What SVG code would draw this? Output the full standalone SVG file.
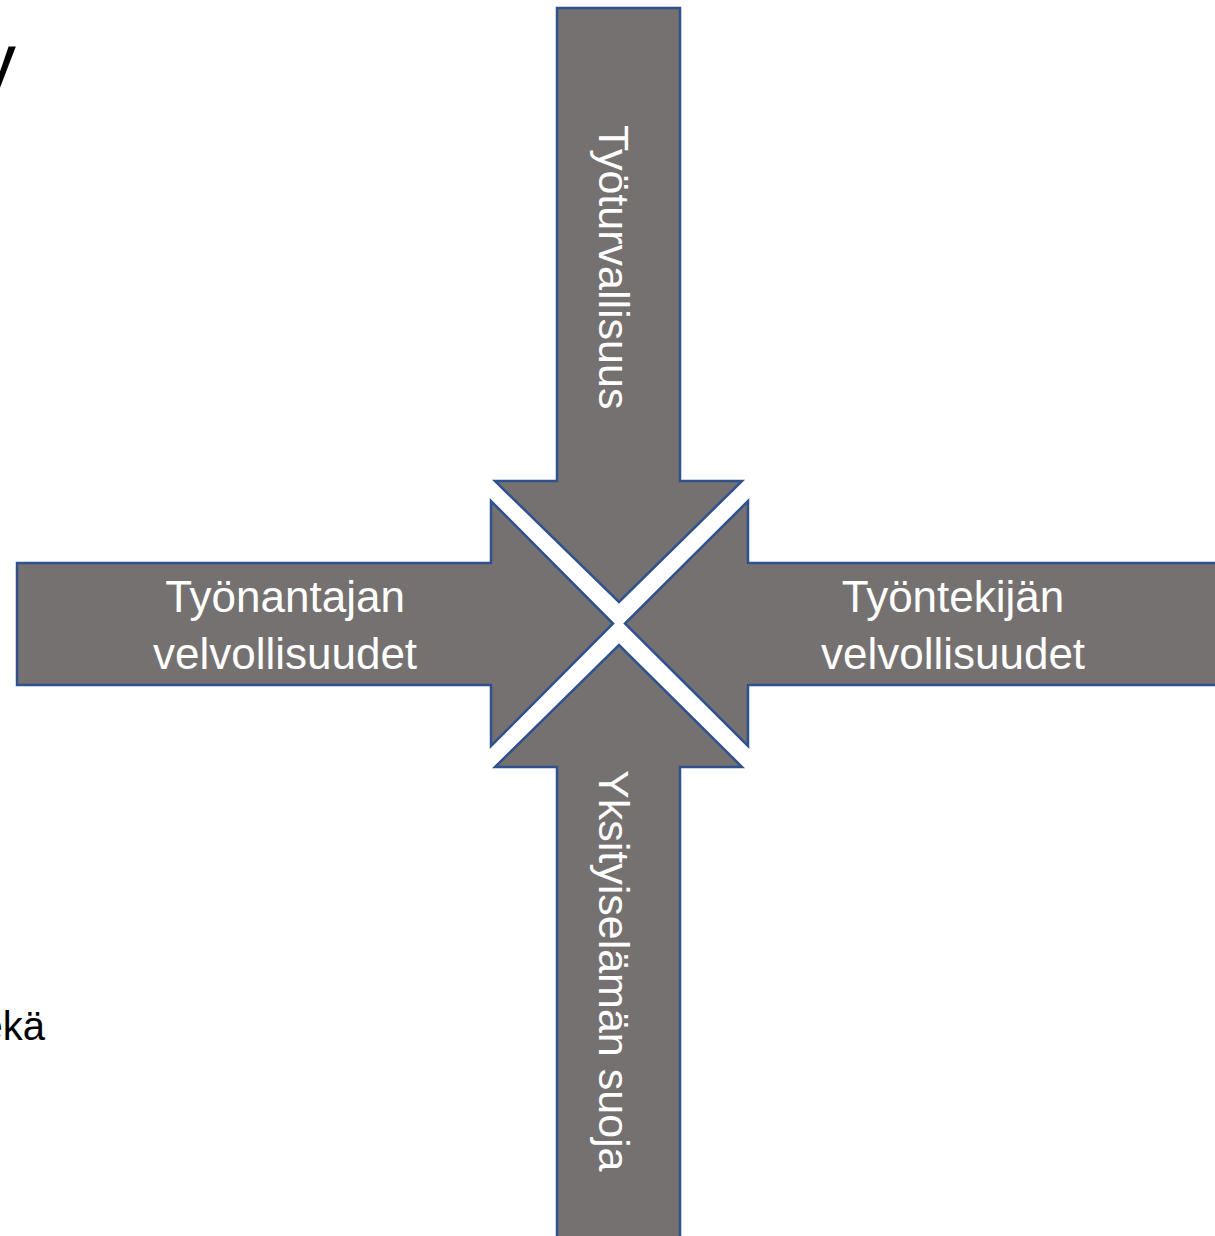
<svg xmlns="http://www.w3.org/2000/svg" width="1215" height="1236" viewBox="0 0 1215 1236">
<style>
.arrow{fill:#767171;stroke:#2F528F;stroke-width:2.5;stroke-linejoin:miter}
.lbl{font-family:"Liberation Sans",Arial,sans-serif;font-size:44px;fill:#ffffff}
.vlbl{font-family:"Liberation Sans",Arial,sans-serif;font-size:43px;fill:#ffffff}
.side{font-family:"Liberation Sans",Arial,sans-serif;fill:#000000}
</style>
<rect width="1215" height="1236" fill="#ffffff"/>
<g id="side-text">
<text class="side" x="16" y="88" font-size="78" text-anchor="end">y</text>
<text class="side" x="45" y="1040" font-size="40" text-anchor="end">sekä</text>
</g>
<g id="arrow-top">
<path class="arrow" d="M557,8 L680,8 L680,481 L742,481 L619,602 L495,481 L557,481 Z"/>
<text class="vlbl" transform="translate(599,125) rotate(90)" x="0" y="0">Työturvallisuus</text>
</g>
<g id="arrow-left">
<path class="arrow" d="M17,563 L491,563 L491,501 L613,623.5 L491,746 L491,685 L17,685 Z"/>
<text class="lbl" x="285" y="612" text-anchor="middle">Työnantajan</text>
<text class="lbl" x="285" y="669" text-anchor="middle">velvollisuudet</text>
</g>
<g id="arrow-right">
<path class="arrow" d="M1222,563 L748,563 L748,501 L625,623.5 L748,746 L748,685 L1222,685 Z"/>
<text class="lbl" x="953" y="612" text-anchor="middle">Työntekijän</text>
<text class="lbl" x="953" y="669" text-anchor="middle">velvollisuudet</text>
</g>
<g id="arrow-bottom">
<path class="arrow" d="M557,1242 L557,767 L495,767 L619,645 L742,767 L680,767 L680,1242 Z"/>
<text class="vlbl" transform="translate(599,770) rotate(90)" x="0" y="0">Yksityiselämän suoja</text>
</g>
</svg>
